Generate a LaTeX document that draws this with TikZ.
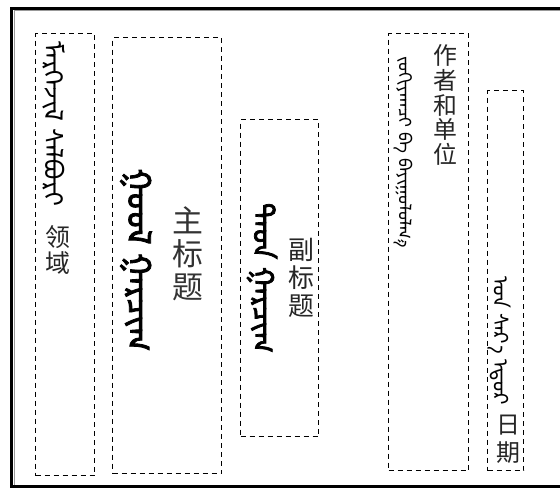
\documentclass[tikz,border=0pt]{standalone}
\usepackage{fontspec}
\newfontfamily\cjk{Noto Sans CJK SC}
\newfontfamily\mong[Script=Mongolian]{Noto Sans Mongolian}
\newfontfamily\mongb[Script=Mongolian,FakeBold=2.5]{Noto Sans Mongolian}
\begin{document}
\begin{tikzpicture}[x=1bp,y=-1bp,
  dbox/.style={draw=black, dash pattern=on 5bp off 4bp, line width=1.3bp, anchor=north west, inner sep=0pt},
  mg/.style={rotate=-90, inner sep=0pt, text=black},
  zh/.style={align=center, inner sep=0pt, text=black!85}]
\useasboundingbox (0,0) rectangle (560,488);
\fill[white] (0,0) rectangle (560,488);
% outer frame
\draw[black!40, line width=1bp] (14,488) -- (14,11) -- (560,11);
\draw[black, line width=3bp] (560,8.5) -- (11.5,8.5) -- (11.5,486.5) -- (560,486.5);
% dashed boxes
\node[dbox, minimum width=59bp, minimum height=442bp] (b1) at (35,33) {};
\node[dbox, minimum width=109bp, minimum height=436bp] (b2) at (112,37) {};
\node[dbox, minimum width=78bp, minimum height=317bp] (b3) at (240,119) {};
\node[dbox, minimum width=80bp, minimum height=437bp] (b4) at (388,33) {};
\node[dbox, minimum width=36bp, minimum height=380bp] (b5) at (487,90) {};
% box 1
\node[mg, font=\mong\fontsize{26}{26}\selectfont] (m1) at (54,124) {ᠮᠡᠷᠭᠡᠵᠢᠯ ᠰᠠᠯᠪᠤᠷᠢ};
\node[zh, font=\cjk\fontsize{25}{27}\selectfont] (c1) at (58,250) {领\\域};
% box 2
\node[mg, font=\mongb\fontsize{33}{33}\selectfont] (m2) at (136,260) {ᠭᠣᠣᠯ ᠭᠠᠷᠴᠢᠭ};
\node[zh, font=\cjk\fontsize{31}{33}\selectfont, text=black!80] (c2) at (188,254) {主\\标\\题};
% box 3
\node[mg, font=\mongb\fontsize{29}{29}\selectfont] (m3) at (262,278) {ᠳᠡᠳ ᠭᠠᠷᠴᠢᠭ};
\node[zh, font=\cjk\fontsize{26}{28}\selectfont] (c3) at (301,278) {副\\标\\题};
% box 4
\node[mg, font=\mong\fontsize{18}{18}\selectfont] (m4) at (403,152) {ᠵᠣᠬᠢᠶᠠᠭᠴᠢ ᠪᠠ ᠪᠠᠶᠢᠭᠤᠯᠤᠯᠭ᠎ᠠ};
\node[zh, font=\cjk\fontsize{24}{25}\selectfont] (c4) at (445,105) {作\\者\\和\\单\\位};
% box 5
\node[mg, font=\mong\fontsize{21}{21}\selectfont] (m5) at (499,341) {ᠣᠨ ᠰᠠᠷ᠎ᠠ ᠡᠳᠦᠷ};
\node[zh, font=\cjk\fontsize{24}{28}\selectfont] (c5) at (508,439) {日\\期};
\end{tikzpicture}
\end{document}
